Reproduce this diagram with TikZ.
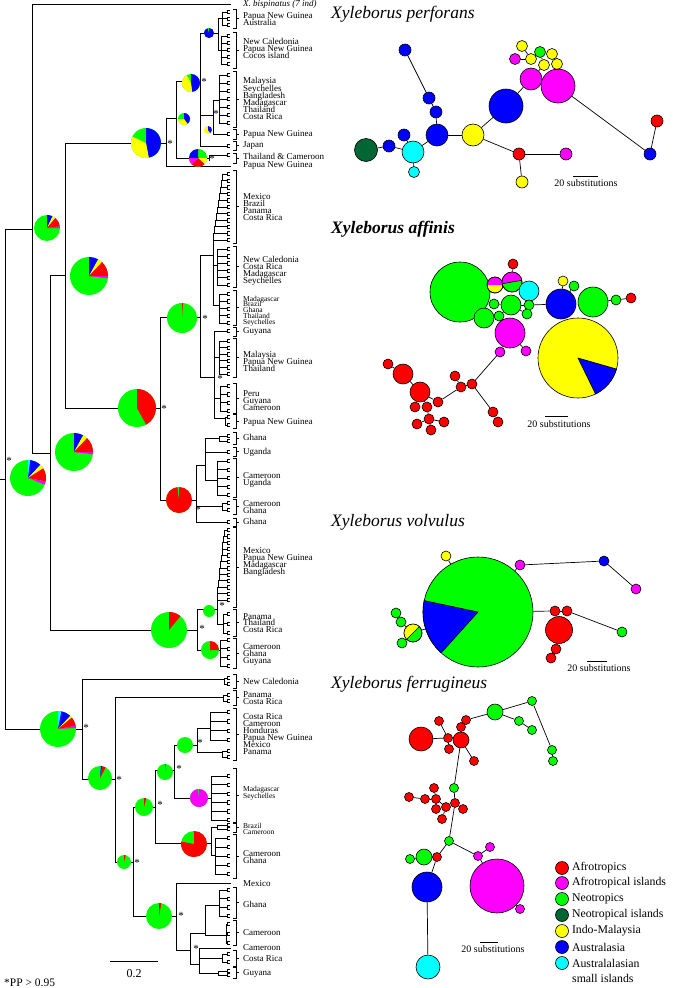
\documentclass[tikz,border=0pt]{standalone}
\usepackage{fontspec}
\setmainfont{Liberation Serif}
\usetikzlibrary{positioning}
\definecolor{afro}{RGB}{255,0,0}
\definecolor{afroisl}{RGB}{255,0,255}
\definecolor{neo}{RGB}{0,255,0}
\definecolor{neoisl}{RGB}{0,102,51}
\definecolor{indo}{RGB}{255,255,0}
\definecolor{austr}{RGB}{0,0,255}
\definecolor{austrisl}{RGB}{0,255,255}
\tikzset{
  br/.style={line width=1pt, line cap=rect},
  tp/.style={line width=0.6pt},
  bk/.style={line width=0.6pt},
  lab/.style={font=\fontsize{9}{9}\selectfont, inner sep=0pt, text height=5pt, text depth=0.5pt, anchor=base west},
  slab/.style={font=\fontsize{7.5}{7.5}\selectfont, inner sep=0pt, text height=4pt, text depth=0.4pt, anchor=base west},
  pp/.style={font=\fontsize{11}{11}\selectfont, inner sep=0pt},
  hap/.style={circle, draw, line width=0.6pt, inner sep=0pt, minimum size=#1},
  edge/.style={line width=0.7pt},
  ttl/.style={font=\fontsize{17.5}{17.5}\selectfont\itshape, inner sep=0pt, anchor=base west},
  sub/.style={font=\fontsize{10}{10}\selectfont, inner sep=0pt, anchor=base},
  leg/.style={font=\fontsize{11.8}{11.8}\selectfont, inner sep=0pt}
}
\newcommand\tipcherry[2]{%
  \draw[br] (#1,#2) -- (227,#2);
  \draw[tp] (230,{#2-1.7}) -- (227,{#2-1.7}) -- (227,{#2+1.7}) -- (230,{#2+1.7});}
\newcommand\tipclade[4]{%
  \draw[br] (#1,#2) -- (#1,#3);
  \foreach \k in {1,...,#4}{%
    \pgfmathsetmacro\cladey{#2+(#3-#2)*(\k-1)/max(#4-1,1)}%
    \tipcherry{#1}{\cladey}}}
\newcommand\tipladder[5]{%
  \foreach \k in {0,...,#5}{%
    \pgfmathsetmacro\ladx{#1+(#3-#1)*\k/#5}%
    \pgfmathsetmacro\lady{#2+(#4-#2)*\k/#5}%
    \tipcherry{\ladx}{\lady}}
  \foreach \k in {1,...,#5}{%
    \pgfmathsetmacro\ladx{#1+(#3-#1)*(\k-1)/#5}%
    \pgfmathsetmacro\lady{#2+(#4-#2)*(\k-1)/#5}%
    \pgfmathsetmacro\ladxn{#1+(#3-#1)*\k/#5}%
    \pgfmathsetmacro\ladyn{#2+(#4-#2)*\k/#5}%
    \draw[br] (\ladx,\lady) |- (\ladxn,\ladyn);}}
\newcommand\tipbracket[2]{%
  \draw[bk] (233,#1) -- (236,#1) -- (236,#2) -- (233,#2);
  \draw[bk] (236,{(#1+#2)/2}) -- (239,{(#1+#2)/2});}
\newcommand\tiplab[2]{\node[lab] (lab#1) at (243,#1+2.5) {#2};}
\newcommand\smalllab[2]{\node[slab] (lab#1) at (243,#1+2) {#2};}
\newcommand\ppmark[2]{\node[pp] (ast-#1-#2) at (#1,#2) {*};}
\newcommand\piechart[4]{%
  \fill[#3] #1 circle[radius=#2];
  \def\pieang{-90}%
  \foreach \pcol/\pval in {#4}{%
    \pgfmathsetmacro\pieend{\pieang+3.6*\pval}%
    \fill[\pcol] #1 -- ++(\pieang:#2) arc[start angle=\pieang, end angle=\pieend, radius=#2] -- cycle;
    \global\let\pieang\pieend}}
\begin{document}
\begin{tikzpicture}[x=1pt,y=-1pt]
\useasboundingbox (0,0) rectangle (676,988);

\draw[br] (0,479) -- (5,479);
\draw[br] (5,229) -- (5,729);
\draw[br] (5,229) -- (32,229);
\draw[br] (32,4) -- (32,453);
\draw[br] (32,4) -- (230,4);
\draw[br] (32,453) -- (50,453);
\draw[br] (50,275) -- (50,630);
\draw[br] (50,275) -- (65,275);
\draw[br] (65,143) -- (65,408);
\draw[br] (65,143) -- (166,143);
\draw[br] (65,408) -- (160,408);
\draw[br] (50,630) -- (197,630);
\draw[br] (5,729) -- (82,729);

\draw[br] (166,118) -- (166,166);
\draw[br] (166,166) -- (230,166);
\draw[br] (166,118) -- (176,118);
\draw[br] (176,81) -- (176,158);
\draw[br] (176,81) -- (200,81);
\draw[br] (176,158) -- (209,158);
\tipclade{209}{155}{160}{1}
\draw[br] (200,33) -- (200,146);
\draw[br] (200,33) -- (218,33);
\draw[br] (218,18) -- (218,50);
\draw[br] (218,18) -- (222,18);
\tipclade{222}{12}{25}{3}
\draw[br] (218,50) -- (221,50);
\tipclade{221}{36}{64}{5}
\draw[br] (200,115) -- (213,115);
\draw[br] (213,100) -- (213,133);
\draw[br] (213,100) -- (219,100);
\tipclade{219}{75}{123}{7}
\tipclade{213}{134}{134}{1}
\tipclade{200}{146}{146}{1}

\draw[br] (160,317) -- (160,500);
\draw[br] (160,317) -- (200,317);
\draw[br] (200,255) -- (200,377);
\draw[br] (200,255) -- (213,255);
\draw[br] (213,240) -- (213,305);
\tipladder{213}{240}{224}{174}{10}
\draw[br] (213,265) -- (217,265);
\tipclade{217}{249}{285}{6}
\draw[br] (213,305) -- (219,305);
\tipclade{219}{294}{323}{5}
\draw[br] (200,377) -- (214,377);
\draw[br] (214,331) -- (214,418);
\tipclade{214}{331}{331}{1}
\draw[br] (214,357) -- (219,357);
\tipclade{219}{341}{374}{6}
\draw[br] (214,398) -- (220,398);
\tipclade{220}{386}{411}{4}
\draw[br] (214,418) -- (225,418);
\tipclade{225}{417}{425}{2}
\draw[br] (160,500) -- (196,500);
\draw[br] (196,465) -- (196,522);
\draw[br] (196,465) -- (205,465);
\draw[br] (205,438) -- (205,480);
\draw[br] (205,438) -- (219,438);
\tipclade{219}{436}{441}{2}
\tipclade{205}{452}{452}{1}
\draw[br] (205,480) -- (217,480);
\tipclade{217}{461}{495}{5}
\draw[br] (196,506) -- (222,506);
\tipclade{222}{503}{510}{2}
\tipclade{196}{522}{522}{1}

\draw[br] (197,609) -- (197,650);
\draw[br] (197,609) -- (217,609);
\draw[br] (217,600) -- (217,624);
\tipladder{217}{600}{225}{530}{11}
\draw[br] (217,624) -- (223,624);
\tipclade{223}{614}{633}{3}
\draw[br] (197,650) -- (220,650);
\tipclade{220}{640}{666}{4}

\draw[br] (82,679) -- (82,779);
\draw[br] (82,679) -- (224,679);
\tipclade{224}{678}{684}{2}
\draw[br] (82,779) -- (115,779);
\draw[br] (115,697) -- (115,862);
\draw[br] (115,697) -- (223,697);
\tipclade{223}{695}{701}{2}
\draw[br] (115,862) -- (133,862);
\draw[br] (133,807) -- (133,916);
\draw[br] (133,807) -- (155,807);
\draw[br] (155,770) -- (155,843);
\draw[br] (155,770) -- (174,770);
\draw[br] (174,745) -- (174,798);
\draw[br] (174,745) -- (197,745);
\draw[br] (197,728) -- (197,752);
\draw[br] (197,728) -- (210,728);
\tipclade{210}{712}{740}{4}
\draw[br] (197,752) -- (222,752);
\tipclade{222}{751}{757}{2}
\draw[br] (174,798) -- (211,798);
\tipclade{211}{776}{820}{6}
\draw[br] (155,843) -- (211,843);
\draw[br] (211,827) -- (211,855);
\draw[br] (211,827) -- (217,827);
\tipclade{217}{825}{829}{2}
\draw[br] (211,855) -- (215,855);
\tipclade{215}{838}{874}{5}
\draw[br] (133,916) -- (176,916);
\draw[br] (176,883) -- (176,950);
\draw[br] (176,883) -- (230,883);
\draw[br] (176,950) -- (190,950);
\draw[br] (190,933) -- (190,964);
\draw[br] (190,933) -- (205,933);
\draw[br] (205,905) -- (205,935);
\draw[br] (205,905) -- (219,905);
\tipclade{219}{890}{916}{4}
\draw[br] (205,935) -- (226,935);
\tipclade{226}{924}{943}{3}
\draw[br] (190,964) -- (199,964);
\draw[br] (199,948) -- (199,973);
\draw[br] (199,948) -- (230,948);
\draw[br] (199,958) -- (222,958);
\tipclade{222}{954}{962}{2}
\draw[br] (199,973) -- (218,973);
\tipclade{218}{971}{975}{2}

\tipbracket{9}{28}
\tipbracket{32}{68}
\tipbracket{71}{127}
\tipbracket{129}{139}
\tipbracket{141}{150}
\tipbracket{153}{163}
\tipbracket{170}{243}
\tipbracket{246}{287}
\tipbracket{290}{325}
\tipbracket{327}{336}
\tipbracket{338}{377}
\tipbracket{383}{413}
\tipbracket{414}{428}
\tipbracket{432}{444}
\tipbracket{447}{456}
\tipbracket{458}{497}
\tipbracket{499}{514}
\tipbracket{518}{526}
\tipbracket{527}{607}
\tipbracket{609}{636}
\tipbracket{638}{668}
\tipbracket{674}{688}
\tipbracket{690}{705}
\tipbracket{708}{760}
\tipbracket{768}{822}
\tipbracket{823}{832}
\tipbracket{834}{878}
\tipbracket{887}{918}
\tipbracket{920}{945}
\tipbracket{950}{966}
\tipbracket{967}{978}

\piechart{(28,478)}{18}{neo}{austrisl/2, austr/10, indo/4, afro/12, afroisl/3}
\piechart{(47,228)}{13}{neo}{austr/7, indo/4, afro/12, afroisl/2}
\piechart{(74,452)}{19}{neo}{austr/8, indo/4, afro/13, afroisl/2}
\piechart{(89,276)}{19}{neo}{austr/8, indo/4, afro/13, afroisl/2}
\piechart{(146,143)}{15}{neo}{austr/47, indo/35}
\piechart{(137,408)}{19}{neo}{afro/42}
\piechart{(191,83)}{9}{neo}{austr/48, indo/44}
\piechart{(184,119)}{6}{neo}{austr/40, indo/35}
\piechart{(198,158)}{9}{neo}{neo/25, indo/12, afro/25, afroisl/13, austr/25}
\piechart{(209,33)}{5}{neo}{austr/95}
\piechart{(208,130)}{4}{indo}{austr/40}
\piechart{(182,318)}{15}{neo}{afro/1}
\piechart{(179,500)}{13}{neo}{afro/98}
\piechart{(169,630)}{18}{neo}{afro/11}
\fill[neo] (209,611) circle[radius=6];
\piechart{(210,650)}{9}{neo}{afro/25}
\piechart{(58,729)}{18}{neo}{austrisl/3, austr/9, indo/2, afro/8, afroisl/2}
\piechart{(100,778)}{12}{neo}{austrisl/1, austr/2, afro/5}
\piechart{(165,772)}{8}{neo}{afroisl/2}
\fill[neo] (185,745) circle[radius=8];
\piechart{(199,798)}{9}{neo}{afroisl/98}
\piechart{(144,807)}{9}{neo}{afro/4}
\piechart{(194,844)}{13}{neo}{afro/78}
\piechart{(124,862)}{7}{neo}{afro/4}
\piechart{(159,916)}{13}{neo}{afro/3}

\ppmark{9}{461}
\ppmark{170}{144}
\ppmark{204}{82}
\ppmark{216}{114}
\ppmark{212}{159}
\ppmark{164}{409}
\ppmark{205}{319}
\ppmark{220}{379}
\ppmark{198}{510}
\ppmark{202}{629}
\ppmark{222}{606}
\ppmark{86}{728}
\ppmark{119}{780}
\ppmark{137}{863}
\ppmark{160}{805}
\ppmark{179}{769}
\ppmark{200}{743}
\ppmark{181}{916}
\ppmark{196}{949}

\tiplab{4}{\textit{X. bispinatus (7 ind)}}
\tiplab{16}{Papua New Guinea}
\tiplab{23}{Australia}
\tiplab{42}{New Caledonia}
\tiplab{49}{Papua New Guinea}
\tiplab{56}{Cocos island}
\tiplab{81}{Malaysia}
\tiplab{89}{Seychelles}
\tiplab{96}{Bangladesh}
\tiplab{103}{Madagascar}
\tiplab{110}{Thailand}
\tiplab{117}{Costa Rica}
\tiplab{134}{Papua New Guinea}
\tiplab{145}{Japan}
\tiplab{157}{Thailand \& Cameroon}
\tiplab{165}{Papua New Guinea}
\tiplab{197}{Mexico}
\tiplab{204}{Brazil}
\tiplab{211}{Panama}
\tiplab{218}{Costa Rica}
\tiplab{260}{New Caledonia}
\tiplab{267}{Costa Rica}
\tiplab{274}{Madagascar}
\tiplab{281}{Seychelles}
\smalllab{299}{Madagascar}
\smalllab{304}{Brazil}
\smalllab{310}{Ghana}
\smalllab{316}{Thailand}
\smalllab{322}{Seychelles}
\tiplab{331}{Guyana}
\tiplab{355}{Malaysia}
\tiplab{362}{Papua New Guinea}
\tiplab{369}{Thailand}
\tiplab{394}{Peru}
\tiplab{401}{Guyana}
\tiplab{408}{Cameroon}
\tiplab{422}{Papua New Guinea}
\tiplab{438}{Ghana}
\tiplab{452}{Uganda}
\tiplab{476}{Cameroon}
\tiplab{483}{Uganda}
\tiplab{504}{Cameroon}
\tiplab{511}{Ghana}
\tiplab{522}{Ghana}
\tiplab{551}{Mexico}
\tiplab{558}{Papua New Guinea}
\tiplab{565}{Madagascar}
\tiplab{572}{Bangladesh}
\tiplab{617}{Panama}
\tiplab{623}{Thailand}
\tiplab{630}{Costa Rica}
\tiplab{647}{Cameroon}
\tiplab{654}{Ghana}
\tiplab{661}{Guyana}
\tiplab{682}{New Caledonia}
\tiplab{695}{Panama}
\tiplab{702}{Costa Rica}
\tiplab{717}{Costa Rica}
\tiplab{724}{Cameroon}
\tiplab{731}{Honduras}
\tiplab{738}{Papua New Guinea}
\tiplab{745}{Mexico}
\tiplab{752}{Panama}
\smalllab{789}{Madagascar}
\smalllab{796}{Seychelles}
\smalllab{826}{Brazil}
\smalllab{832}{Cameroon}
\tiplab{854}{Cameroon}
\tiplab{861}{Ghana}
\tiplab{884}{Mexico}
\tiplab{905}{Ghana}
\tiplab{933}{Cameroon}
\tiplab{948}{Cameroon}
\tiplab{959}{Costa Rica}
\tiplab{973}{Guyana}

\draw[br] (110,961) -- (157,961);
\node[font=\fontsize{12}{12}\selectfont, inner sep=0pt, anchor=base] (scl) at (134,977) {0.2};
\node[font=\fontsize{11.5}{11.5}\selectfont, inner sep=0pt, anchor=base west] (ppnote) at (4,986) {*PP > 0.95};

\node[ttl] (tperf) at (331,18) {Xyleborus perforans};
\node[ttl, font=\fontsize{17.5}{17.5}\selectfont\bfseries\itshape] (taff) at (331,233) {Xyleborus affinis};
\node[ttl] (tvol) at (331,526) {Xyleborus volvulus};
\node[ttl] (tfer) at (331,688) {Xyleborus ferrugineus};

\node[hap=12pt, fill=austr] (pa) at (405,50) {};
\node[hap=12pt, fill=austr] (pb) at (429,98) {};
\node[hap=12pt, fill=austr] (pc) at (436,112) {};
\node[hap=22pt, fill=austr] (pd) at (437,135) {};
\node[hap=12pt, fill=austr] (pe) at (404,135) {};
\node[hap=23pt, fill=neoisl] (pf) at (366,150) {};
\node[hap=12pt, fill=austr] (pg) at (389,146) {};
\node[hap=22pt, fill=austrisl] (ph) at (413,152) {};
\node[hap=11pt, fill=austrisl] (pi) at (414,172) {};
\node[hap=22pt, fill=indo] (pj) at (473,135) {};
\node[hap=34pt, fill=austr] (pk) at (506,106) {};
\node[hap=22pt, fill=afroisl] (pl) at (531,79) {};
\node[hap=34pt, fill=afroisl] (pm) at (558,86) {};
\node[hap=12pt, fill=afro] (pn) at (519,154) {};
\node[hap=12pt, fill=afroisl] (po) at (566,154) {};
\node[hap=12pt, fill=indo] (pp) at (522,182) {};
\node[hap=12pt, fill=austr] (pq) at (650,154) {};
\node[hap=12pt, fill=afro] (pr) at (657,121) {};
\node[hap=11pt, fill=indo] (pc1) at (522,46) {};
\node[hap=11pt, fill=afroisl] (pc2) at (515,59) {};
\node[hap=11pt, fill=indo] (pc3) at (531,59) {};
\node[hap=11pt, fill=neo] (pc4) at (540,52) {};
\node[hap=11pt, fill=indo] (pc5) at (552,54) {};
\node[hap=11pt, fill=indo] (pc6) at (544,65) {};
\node[hap=11pt, fill=indo] (pc7) at (557,64) {};
\foreach \a/\b in {pa/pb, pb/pc, pc/pd, pd/pj, pd/ph, ph/pe, ph/pg, pg/pf, ph/pi, pj/pk, pj/pn, pn/po, pn/pp, pk/pl, pl/pm, pm/pq, pq/pr, pc1/pc3, pc2/pc3, pc3/pc4, pc4/pc5, pc4/pc6, pc5/pc7, pc6/pl, pc7/pm}
  \draw[edge] (\a) -- (\b);
\draw[br] (573,176) -- (597,176);
\node[sub] (sbperf) at (586,186) {20 substitutions};

\node[hap=60pt, fill=neo] (ag1) at (460,292) {};
\node[hap=16pt, fill=indo] (amy) at (495,285) {};
\fill[afroisl] (amy.center) -- ++(180:8) arc[start angle=180, end angle=360, radius=8] -- cycle;
\draw[line width=0.6pt] (amy.center) circle[radius=8];
\node[hap=20pt, fill=neo] (amg) at (512,282) {};
\fill[afroisl] (amg.center) -- ++(170:10) arc[start angle=170, end angle=350, radius=10] -- cycle;
\draw[line width=0.6pt] (amg.center) ++(170:10) -- ++(-10:20);
\draw[line width=0.6pt] (amg.center) circle[radius=10];
\node[hap=10pt, fill=afro] (ar1) at (513,264) {};
\node[hap=20pt, fill=austrisl] (acy) at (529,291) {};
\node[hap=20pt, fill=neo] (ag2) at (511,305) {};
\node[hap=10pt, fill=neo] (ag3) at (494,304) {};
\node[hap=10pt, fill=neo] (ag4) at (529,305) {};
\node[hap=10pt, fill=neo] (ag5) at (499,316) {};
\node[hap=10pt, fill=neo] (ag6) at (527,314) {};
\node[hap=20pt, fill=neo] (ag7) at (484,318) {};
\node[hap=30pt, fill=afroisl] (am1) at (510,333) {};
\node[hap=10pt, fill=afroisl] (am2) at (500,352) {};
\node[hap=10pt, fill=afroisl] (am3) at (526,351) {};
\node[hap=30pt, fill=austr] (ab) at (561,304) {};
\node[hap=10pt, fill=indo] (ay1) at (563,281) {};
\node[hap=10pt, fill=neo] (ag8) at (574,286) {};
\node[hap=30pt, fill=neo] (ag9) at (593,302) {};
\node[hap=10pt, fill=neo] (ag10) at (616,300) {};
\node[hap=10pt, fill=afro] (ar2) at (631,298) {};
\node[hap=80pt, fill=indo] (ayb) at (578,358) {};
\filldraw[fill=austr, draw=black, line width=0.6pt] (ayb.center) -- ++(16:40) arc[start angle=16, end angle=64, radius=40] -- cycle;
\node[hap=10pt, fill=afro] (ar3) at (472,384) {};
\node[hap=10pt, fill=afro] (ar4) at (461,387) {};
\node[hap=10pt, fill=afro] (ar5) at (455,376) {};
\node[hap=10pt, fill=afro] (ar6) at (493,412) {};
\node[hap=10pt, fill=afro] (ar7) at (498,422) {};
\node[hap=10pt, fill=afro] (ar8) at (438,402) {};
\node[hap=20pt, fill=afro] (ar9) at (420,392) {};
\node[hap=20pt, fill=afro] (ar10) at (403,374) {};
\node[hap=10pt, fill=afro] (ar11) at (388,364) {};
\node[hap=10pt, fill=afro] (ar12) at (415,407) {};
\node[hap=10pt, fill=afro] (ar13) at (427,407) {};
\node[hap=10pt, fill=afro] (ar14) at (429,419) {};
\node[hap=10pt, fill=afro] (ar15) at (417,424) {};
\node[hap=10pt, fill=afro] (ar16) at (444,422) {};
\node[hap=10pt, fill=afro] (ar17) at (431,430) {};
\foreach \a/\b in {amg/ar1, ag2/ag3, ag2/ag4, ag2/ag5, ag2/ag6, ag5/ag7, am1/am2, am1/am3, ag4/ab, ab/ay1, ab/ag8, ag9/ag10, ag10/ar2, am2/ar3, ar3/ar4, ar4/ar5, ar3/ar6, ar6/ar7, ar4/ar8, ar8/ar9, ar9/ar10, ar10/ar11, ar9/ar12, ar9/ar13, ar13/ar14, ar14/ar15, ar14/ar16, ar14/ar17}
  \draw[edge] (\a) -- (\b);
\draw[br] (545,416) -- (567,416);
\node[sub] (sbaff) at (559,427) {20 substitutions};

\node[hap=110pt, fill=neo] (vg) at (478,612) {};
\filldraw[fill=austr, draw=black, line width=0.6pt] (vg.center) -- ++(132:55) arc[start angle=132, end angle=192, radius=55] -- cycle;
\node[hap=10pt, fill=indo] (vy1) at (446,556) {};
\node[hap=10pt, fill=afroisl] (vm1) at (520,565) {};
\node[hap=10pt, fill=austr] (vb) at (604,561) {};
\node[hap=10pt, fill=afroisl] (vm2) at (636,589) {};
\node[hap=10pt, fill=afro] (vr1) at (555,611) {};
\node[hap=10pt, fill=afro] (vr2) at (567,611) {};
\node[hap=27pt, fill=afro] (vr3) at (559,630) {};
\node[hap=10pt, fill=afro] (vr4) at (556,649) {};
\node[hap=10pt, fill=afro] (vr5) at (551,658) {};
\node[hap=10pt, fill=neo] (vg2) at (622,632) {};
\node[hap=18pt, fill=neo] (vyg) at (413,633) {};
\fill[indo] (vyg.center) -- ++(135:9) arc[start angle=135, end angle=315, radius=9] -- cycle;
\draw[line width=0.6pt] (vyg.center) ++(135:9) -- ++(-45:18);
\draw[line width=0.6pt] (vyg.center) circle[radius=9];
\node[hap=10pt, fill=neo] (vg3) at (396,613) {};
\node[hap=10pt, fill=neo] (vg4) at (401,622) {};
\node[hap=10pt, fill=neo] (vg5) at (402,643) {};
\foreach \a/\b in {vg/vy1, vg/vm1, vm1/vb, vb/vm2, vg/vr1, vr1/vr2, vr2/vg2, vr3/vr4, vr4/vr5, vg/vyg, vyg/vg4, vg4/vg3, vyg/vg5}
  \draw[edge] (\a) -- (\b);
\draw[br] (587,661) -- (606,661);
\node[sub] (sbvol) at (599,671) {20 substitutions};

\node[hap=16pt, fill=neo] (fg1) at (495,712) {};
\node[hap=9pt, fill=neo] (fg2) at (532,701) {};
\node[hap=9pt, fill=neo] (fg3) at (519,721) {};
\node[hap=9pt, fill=neo] (fg4) at (532,730) {};
\node[hap=9pt, fill=neo] (fg5) at (552,750) {};
\node[hap=9pt, fill=neo] (fg6) at (553,761) {};
\node[hap=9pt, fill=afro] (fr1) at (466,720) {};
\node[hap=9pt, fill=afro] (fr2) at (461,727) {};
\node[hap=9pt, fill=afro] (fr3) at (439,721) {};
\node[hap=24pt, fill=afro] (fr4) at (421,739) {};
\node[hap=9pt, fill=afro] (fr5) at (448,738) {};
\node[hap=16pt, fill=afro] (fr6) at (461,740) {};
\node[hap=9pt, fill=afro] (fr7) at (449,749) {};
\node[hap=9pt, fill=afro] (fr8) at (474,761) {};
\node[hap=9pt, fill=neo] (fg7) at (454,788) {};
\node[hap=9pt, fill=afro] (fr9) at (434,788) {};
\node[hap=9pt, fill=afro] (fr10) at (409,797) {};
\node[hap=9pt, fill=afro] (fr11) at (425,799) {};
\node[hap=9pt, fill=afro] (fr12) at (436,799) {};
\node[hap=9pt, fill=afro] (fr13) at (455,803) {};
\node[hap=9pt, fill=afro] (fr14) at (446,807) {};
\node[hap=9pt, fill=afro] (fr15) at (436,809) {};
\node[hap=9pt, fill=afro] (fr16) at (463,809) {};
\node[hap=9pt, fill=afro] (fr17) at (442,819) {};
\node[hap=9pt, fill=neo] (fg8) at (449,841) {};
\node[hap=9pt, fill=afroisl] (fm1) at (478,856) {};
\node[hap=9pt, fill=afroisl] (fm2) at (490,847) {};
\node[hap=9pt, fill=afro] (fr18) at (437,857) {};
\node[hap=16pt, fill=neo] (fg9) at (424,857) {};
\node[hap=9pt, fill=neo] (fg10) at (410,859) {};
\node[hap=30pt, fill=austr] (fb) at (427,887) {};
\node[hap=54pt, fill=afroisl] (fm3) at (497,886) {};
\node[hap=9pt, fill=afroisl] (fm4) at (520,909) {};
\node[hap=24pt, fill=austrisl] (fc) at (428,967) {};
\foreach \a/\b in {fg1/fr1, fr1/fr2, fr2/fr6, fg1/fg2, fg2/fg5, fg5/fg6, fg1/fg3, fg3/fg4, fr4/fr5, fr5/fr6, fr5/fr3, fr5/fr7, fr6/fr8, fr6/fg7, fg7/fr13, fr13/fr14, fr13/fr16, fr14/fr12, fr12/fr9, fr12/fr11, fr11/fr10, fr14/fr15, fr14/fr17, fr13/fg8, fg8/fr18, fr18/fg9, fg9/fg10, fr18/fb, fg8/fm1, fm1/fm2, fm1/fm3, fm3/fm4, fb/fc}
  \draw[edge] (\a) -- (\b);
\draw[br] (480,942) -- (497,942);
\node[sub] (sbfer) at (493,952) {20 substitutions};

\node[hap=13pt, fill=afro] (lg1) at (562,868) {};
\node[hap=13pt, fill=afroisl] (lg2) at (562,883) {};
\node[hap=13pt, fill=neo] (lg3) at (562,899) {};
\node[hap=13pt, fill=neoisl] (lg4) at (562,915) {};
\node[hap=13pt, fill=indo] (lg5) at (562,931) {};
\node[hap=13pt, fill=austr] (lg6) at (562,947) {};
\node[hap=13pt, fill=austrisl] (lg7) at (562,963) {};
\node[leg, right=3pt of lg1] (lt1) {Afrotropics};
\node[leg, right=3pt of lg2] (lt2) {Afrotropical islands};
\node[leg, right=3pt of lg3] (lt3) {Neotropics};
\node[leg, right=3pt of lg4] (lt4) {Neotropical islands};
\node[leg, right=3pt of lg5] (lt5) {Indo-Malaysia};
\node[leg, right=3pt of lg6] (lt6) {Australasia};
\node[leg, right=3pt of lg7] (lt7) {Australalasian};
\node[leg, anchor=base west] (lt8) at (572,982) {small islands};
\end{tikzpicture}
\end{document}
